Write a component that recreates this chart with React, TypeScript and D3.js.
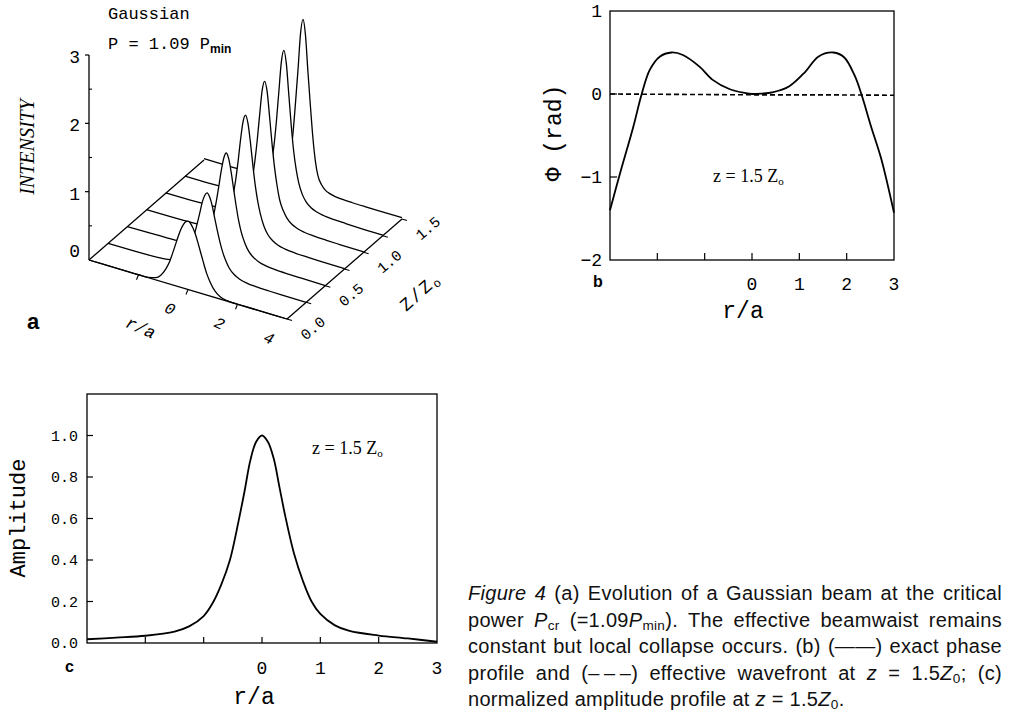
import React, { useEffect, useRef } from 'react';
import * as d3 from 'd3';

const W = 1022;
const H = 715;
const MONO = '"Liberation Mono", "DejaVu Sans Mono", monospace';
const SERIF = '"Liberation Serif", "DejaVu Serif", serif';
const SANS = '"Liberation Sans", Arial, sans-serif';

// ---------- Panel a: intensity slices (half profiles, symmetric in r) ----------
const zSlices = [0, 0.25, 0.5, 0.75, 1.0, 1.25, 1.5];
const rHalf = [0, 0.1, 0.2, 0.3, 0.4, 0.5, 0.6, 0.75, 0.9, 1.1, 1.3, 1.6, 2.0, 2.5, 3.0, 4.0];
const intensityZ000 = [1.0, 0.98, 0.92, 0.84, 0.73, 0.61, 0.49, 0.32, 0.2, 0.09, 0.034, 0.006, 0, 0, 0, 0];
const intensityZ025 = [1.17, 1.12, 1.01, 0.84, 0.68, 0.53, 0.4, 0.26, 0.16, 0.09, 0.05, 0.023, 0.01, 0.004, 0.001, 0];
const intensityZ050 = [1.51, 1.43, 1.24, 1.0, 0.77, 0.57, 0.42, 0.27, 0.17, 0.1, 0.06, 0.03, 0.015, 0.008, 0.005, 0.002];
const intensityZ075 = [1.82, 1.71, 1.44, 1.11, 0.82, 0.6, 0.44, 0.27, 0.17, 0.1, 0.06, 0.033, 0.018, 0.011, 0.007, 0.004];
const intensityZ100 = [2.07, 1.93, 1.57, 1.18, 0.85, 0.6, 0.41, 0.26, 0.166, 0.097, 0.062, 0.035, 0.021, 0.014, 0.01, 0.006];
const intensityZ125 = [2.28, 2.1, 1.66, 1.21, 0.84, 0.59, 0.41, 0.25, 0.16, 0.096, 0.062, 0.036, 0.023, 0.016, 0.011, 0.009];
const intensityZ150 = [2.49, 2.27, 1.74, 1.25, 0.8, 0.47, 0.27, 0.15, 0.087, 0.055, 0.037, 0.027, 0.022, 0.02, 0.02, 0.02];
const intensitySlices = [intensityZ000, intensityZ025, intensityZ050, intensityZ075, intensityZ100, intensityZ125, intensityZ150];
const intensityTicks = [0, 1, 2, 3];
const intensityMinor = [0.5, 1.5, 2.5];
const rTicksA = [-2, 0, 2, 4];
const rTickLabelsA = ['0', '2', '4'];
const zTickLabels = ['0.0', '0.5', '1.0', '1.5'];

// ---------- Panel b: phase ----------
const phaseR = [-3, -2.79, -2.51, -2.33, -2.16, -1.95, -1.7, -1.46, -1.11, -0.83, -0.48, -0.13, 0, 0.2, 0.43, 0.78, 1.13, 1.4, 1.72, 1.95, 2.17, 2.31, 2.52, 2.73, 3];
const phaseExact = [-1.4, -0.96, -0.4, 0, 0.29, 0.45, 0.5, 0.47, 0.33, 0.17, 0.06, 0.01, 0, 0.005, 0.02, 0.09, 0.27, 0.45, 0.5, 0.44, 0.22, 0, -0.4, -0.78, -1.43];
const wavefrontR = [-3, -1.5, 0, 1.5, 3];
const wavefrontPhase = [0, -0.005, -0.01, -0.01, -0.015];
const phaseYTicks = [1, 0, -1, -2];
const phaseXTicks = [-2, -1, 0, 1, 2];
const phaseXLabels = [0, 1, 2, 3];

// ---------- Panel c: amplitude ----------
const ampR = [-3, -2.5, -2, -1.5, -1.25, -1, -0.85, -0.7, -0.55, -0.4, -0.3, -0.2, -0.1, 0, 0.1, 0.2, 0.3, 0.4, 0.55, 0.7, 0.85, 1, 1.25, 1.5, 2, 2.5, 3];
const ampV = [0.018, 0.026, 0.035, 0.055, 0.08, 0.13, 0.19, 0.28, 0.4, 0.59, 0.73, 0.88, 0.97, 1.0, 0.97, 0.89, 0.75, 0.61, 0.43, 0.3, 0.2, 0.14, 0.085, 0.058, 0.036, 0.022, 0.006];
const ampYTicks = [0, 0.2, 0.4, 0.6, 0.8, 1.0];
const ampXTicks = [-2, -1, 0, 1, 2];
const ampXLabels = [0, 1, 2, 3];

const captionLines = [
  '*Figure* *4* (a) Evolution of a Gaussian beam at the critical',
  'power *P*_{cr} (=1.09*P*_{min}). The effective beamwaist remains',
  'constant but local collapse occurs. (b) (\u2014\u2014) exact phase',
  'profile and (\u2013\u2009\u2013\u2009\u2013) effective wavefront at *z* = 1.5*Z*_{0}; (c)',
  'normalized amplitude profile at *z* = 1.5*Z*_{0}.',
];

// ---------- projection for panel a ----------
const rToX = d3.scaleLinear().domain([-4, 4]).range([0, 198]);
const rToY = d3.scaleLinear().domain([-4, 4]).range([0, 59]);
const zToX = d3.scaleLinear().domain([0, 1.5]).range([0, 115]);
const zToY = d3.scaleLinear().domain([0, 1.5]).range([0, -100]);
const iToY = d3.scaleLinear().domain([0, 3]).range([0, -205]);
const AX = 89;
const AY = 260;
const proj = (r: number, z: number, i: number): [number, number] => [
  AX + rToX(r) + zToX(z),
  AY + rToY(r) + zToY(z) + iToY(i),
];
const mirror = (h: number[]) => [...h.slice(1).reverse(), ...h];
const rFull = [...rHalf.slice(1).reverse().map((v) => -v), ...rHalf];

const bX = d3.scaleLinear().domain([-3, 3]).range([610, 894]);
const bY = d3.scaleLinear().domain([-2, 1]).range([260, 11]);
const cX = d3.scaleLinear().domain([-3, 3]).range([87, 437]);
const cY = d3.scaleLinear().domain([0, 1.2]).range([643, 394]);

const lineA = d3.line<[number, number]>().curve(d3.curveMonotoneX);
const lineB = d3
  .line<number>()
  .x((_, i) => bX(phaseR[i]))
  .y((d) => bY(d))
  .curve(d3.curveCatmullRom.alpha(0.5));
const lineBDash = d3
  .line<number>()
  .x((_, i) => bX(wavefrontR[i]))
  .y((d) => bY(d));
const lineC = d3
  .line<number>()
  .x((_, i) => cX(ampR[i]))
  .y((d) => cY(d))
  .curve(d3.curveCatmullRom.alpha(0.5));

const pt = (p: [number, number]) => `${p[0]},${p[1]}`;

export default function App() {
  const capRef = useRef<SVGGElement>(null);

  useEffect(() => {
    if (!capRef.current) return;
    const g = d3.select(capRef.current);
    g.selectAll('*').remove();
    const fs = 20;
    const ls = 0.3;
    const left = 468;
    const right = 1002;
    const base0 = 600;
    const lh = 26.5;
    captionLines.forEach((line, li) => {
      const words = line.split(' ');
      const nodes = words.map((w) => {
        const t = g
          .append('text')
          .attr('y', base0 + li * lh)
          .attr('font-family', SANS)
          .attr('font-size', fs)
          .attr('fill', '#111')
          .style('letter-spacing', `${ls}px`);
        const re = /\*([^*]+)\*|_\{([^}]+)\}|([^*_]+)/g;
        let m: RegExpExecArray | null;
        let sub = false;
        while ((m = re.exec(w))) {
          if (m[2]) {
            t.append('tspan').attr('font-size', fs * 0.68).attr('dy', 3).text(m[2]);
            sub = true;
          } else {
            const sp = t.append('tspan').attr('dy', sub ? -3 : 0).text(m[1] || m[3]);
            if (m[1]) sp.attr('font-style', 'italic');
            sub = false;
          }
        }
        return t;
      });
      const widths = nodes.map((n) => (n.node() as SVGTextElement).getComputedTextLength());
      const sum = d3.sum(widths);
      const gap = li < captionLines.length - 1 && words.length > 1 ? (right - left - sum) / (words.length - 1) : fs * 0.278 + ls;
      let x = left;
      nodes.forEach((n, i) => {
        n.attr('x', x);
        x += widths[i] + gap;
      });
    });
  }, []);

  // panel a slices, back to front
  const order = zSlices.map((_, k) => k).reverse();

  return (
    <svg
      width={W}
      height={H}
      viewBox={`0 0 ${W} ${H}`}
      style={{ position: 'absolute', left: 0, top: 0, background: '#fff' }}
    >
      <rect x={0} y={0} width={W} height={H} fill="#fff" />

      {/* ================= Panel a ================= */}
      <g>
        {order.map((k) => {
          const z = zSlices[k];
          const vals = mirror(intensitySlices[k]);
          const pts = rFull.map((r, j) => proj(r, z, vals[j]));
          const d = lineA(pts) as string;
          const b1 = proj(4, z, 0);
          const b0 = proj(-4, z, 0);
          return (
            <g key={k}>
              <path d={`${d}L${pt(b1)}L${pt(b0)}Z`} fill="#fff" stroke="none" />
              <path d={d} fill="none" stroke="#000" strokeWidth={1.3} strokeLinejoin="round" />
            </g>
          );
        })}
        {/* floor edges */}
        <line x1={proj(-4, 0, 0)[0]} y1={proj(-4, 0, 0)[1]} x2={proj(-4, 1.5, 0)[0]} y2={proj(-4, 1.5, 0)[1]} stroke="#000" strokeWidth={1.3} />
        <line x1={proj(-4, 0, 0)[0]} y1={proj(-4, 0, 0)[1]} x2={proj(4, 0, 0)[0]} y2={proj(4, 0, 0)[1]} stroke="#000" strokeWidth={1.3} />
        <line x1={proj(4, 0, 0)[0]} y1={proj(4, 0, 0)[1]} x2={proj(4, 1.5, 0)[0]} y2={proj(4, 1.5, 0)[1]} stroke="#000" strokeWidth={1.3} />
        {/* vertical intensity axis */}
        <line x1={proj(-4, 0, 0)[0]} y1={proj(-4, 0, 0)[1]} x2={proj(-4, 0, 3)[0]} y2={proj(-4, 0, 3)[1]} stroke="#000" strokeWidth={1.3} />
        {intensityTicks.map((v) => {
          const p = proj(-4, 0, v);
          return (
            <g key={`it${v}`}>
              {v > 0 && <line x1={p[0]} y1={p[1]} x2={p[0] - 4} y2={p[1]} stroke="#000" strokeWidth={1.2} />}
              <text x={80} y={v === 0 ? p[1] - 3 : p[1] + 8} textAnchor="end" fontFamily={MONO} fontSize={18}>
                {v}
              </text>
            </g>
          );
        })}
        {intensityMinor.map((v) => {
          const p = proj(-4, 0, v);
          return <line key={`im${v}`} x1={p[0]} y1={p[1]} x2={p[0] + 3} y2={p[1]} stroke="#000" strokeWidth={1.1} />;
        })}
        {/* r axis ticks and labels */}
        {rTicksA.slice(0, 3).map((r) => {
          const p = proj(r, 0, 0);
          return <line key={`rt${r}`} x1={p[0]} y1={p[1]} x2={p[0] - 2} y2={p[1] + 5} stroke="#000" strokeWidth={1.1} />;
        })}
        {rTickLabelsA.map((lab, i) => {
          const p = proj(rTicksA[i + 1], 0, 0);
          return (
            <text
              key={`rl${lab}`}
              transform={`translate(${p[0] - 20},${p[1] + 24}) rotate(24)`}
              textAnchor="middle"
              fontFamily={MONO}
              fontStyle="italic"
              fontSize={16}
            >
              {lab}
            </text>
          );
        })}
        {(() => {
          const p = proj(-2, 0, 0);
          return (
            <text transform={`translate(${p[0]},${p[1] + 58}) rotate(24)`} textAnchor="middle" fontFamily={MONO} fontStyle="italic" fontSize={17}>
              r/a
            </text>
          );
        })()}
        {/* z axis ticks and labels */}
        {zSlices.map((z) => {
          const p = proj(4, z, 0);
          return <line key={`zt${z}`} x1={p[0]} y1={p[1]} x2={p[0] + 5} y2={p[1] + 1.5} stroke="#000" strokeWidth={1.1} />;
        })}
        {zTickLabels.map((lab) => {
          const p = proj(4, +lab, 0);
          return (
            <text
              key={`zl${lab}`}
              transform={`translate(${p[0] + 29},${p[1] + 13}) rotate(-40)`}
              textAnchor="middle"
              fontFamily={MONO}
              fontSize={15}
            >
              {lab}
            </text>
          );
        })}
        <text transform="translate(424,296) rotate(-42)" textAnchor="middle" fontFamily={MONO} fontSize={18} letterSpacing={2}>
          Z/Z<tspan fontSize={12} dy={3}>o</tspan>
        </text>
        {/* titles */}
        <text x={108} y={19} fontFamily={MONO} fontSize={17}>Gaussian</text>
        <text x={108} y={49} fontFamily={MONO} fontSize={17}>
          P = 1.09 P<tspan fontFamily={SANS} fontWeight="bold" fontSize={12} dy={4}>min</tspan>
        </text>
        <text transform="translate(34,147) rotate(-90)" textAnchor="middle" fontFamily={SERIF} fontStyle="italic" fontSize={20}>
          INTENSITY
        </text>
        <text x={27} y={329} fontFamily={SANS} fontWeight="bold" fontSize={22}>a</text>
      </g>

      {/* ================= Panel b ================= */}
      <g>
        <rect x={bX(-3)} y={bY(1)} width={bX(3) - bX(-3)} height={bY(-2) - bY(1)} fill="none" stroke="#000" strokeWidth={1.3} />
        {phaseXTicks.map((v) => (
          <line key={`bxt${v}`} x1={bX(v)} y1={bY(-2)} x2={bX(v)} y2={bY(-2) - 7} stroke="#000" strokeWidth={1.2} />
        ))}
        {phaseYTicks.slice(1, 3).map((v) => (
          <line key={`byt${v}`} x1={bX(-3)} y1={bY(v)} x2={bX(-3) + 7} y2={bY(v)} stroke="#000" strokeWidth={1.2} />
        ))}
        {phaseYTicks.map((v) => (
          <text key={`byl${v}`} x={602} y={bY(v) + 6} textAnchor="end" fontFamily={MONO} fontSize={18}>
            {v < 0 ? `\u2212${-v}` : v}
          </text>
        ))}
        {phaseXLabels.map((v) => (
          <text key={`bxl${v}`} x={bX(v)} y={290} textAnchor="middle" fontFamily={MONO} fontSize={18}>
            {v}
          </text>
        ))}
        <path d={lineBDash(wavefrontPhase) as string} fill="none" stroke="#000" strokeWidth={1.6} strokeDasharray="5,3" />
        <path d={lineB(phaseExact) as string} fill="none" stroke="#000" strokeWidth={1.8} />
        <text x={713} y={182} fontFamily={SERIF} fontSize={18}>
          z = 1.5 Z<tspan fontSize={11} dy={3}>o</tspan>
        </text>
        <text transform="translate(561,133) rotate(-90)" textAnchor="middle" fontFamily={MONO} fontSize={23}>
          {'\u03A6 (rad)'}
        </text>
        <text x={743} y={318} textAnchor="middle" fontFamily={MONO} fontSize={23}>r/a</text>
        <text x={593} y={287} fontFamily={SANS} fontWeight="bold" fontSize={16}>b</text>
      </g>

      {/* ================= Panel c ================= */}
      <g>
        <rect x={cX(-3)} y={cY(1.2)} width={cX(3) - cX(-3)} height={cY(0) - cY(1.2)} fill="none" stroke="#000" strokeWidth={1.3} />
        {ampXTicks.map((v) => (
          <line key={`cxt${v}`} x1={cX(v)} y1={cY(0)} x2={cX(v)} y2={cY(0) - 6} stroke="#000" strokeWidth={1.2} />
        ))}
        {ampYTicks.slice(1).map((v) => (
          <line key={`cyt${v}`} x1={cX(-3)} y1={cY(v)} x2={cX(-3) + 6} y2={cY(v)} stroke="#000" strokeWidth={1.2} />
        ))}
        {ampYTicks.map((v) => (
          <text key={`cyl${v}`} x={78} y={cY(v) + 5} textAnchor="end" fontFamily={MONO} fontSize={15}>
            {v.toFixed(1)}
          </text>
        ))}
        {ampXLabels.map((v) => (
          <text key={`cxl${v}`} x={cX(v)} y={674} textAnchor="middle" fontFamily={MONO} fontSize={18}>
            {v}
          </text>
        ))}
        <path d={lineC(ampV) as string} fill="none" stroke="#000" strokeWidth={1.8} />
        <text x={312} y={454} fontFamily={SERIF} fontSize={18}>
          z = 1.5 Z<tspan fontSize={11} dy={3}>o</tspan>
        </text>
        <text transform="translate(25,518) rotate(-90)" textAnchor="middle" fontFamily={MONO} fontSize={22}>
          Amplitude
        </text>
        <text x={254} y={704} textAnchor="middle" fontFamily={MONO} fontSize={23}>r/a</text>
        <text x={65} y={672} fontFamily={SANS} fontWeight="bold" fontSize={16}>c</text>
      </g>

      {/* ================= Caption ================= */}
      <g ref={capRef} />
    </svg>
  );
}
